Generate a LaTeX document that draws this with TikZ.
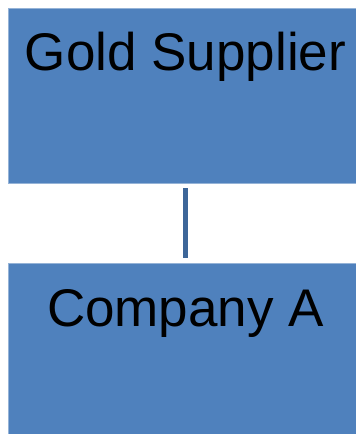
\documentclass[tikz,border=0pt]{standalone}
\usepackage{fontspec}
\setmainfont{Liberation Sans}
\usepackage{xcolor}
\usetikzlibrary{positioning}
\definecolor{boxblue}{HTML}{4F81BD}
\definecolor{linkblue}{HTML}{3D6699}

\begin{document}
\begin{tikzpicture}[x=1pt,y=1pt,
  box/.style={rectangle,fill=boxblue,draw=boxblue!60!white,line width=0.8pt,minimum width=355pt,inner sep=0pt,name=#1},
  lbl/.style={anchor=base,inner sep=0pt,font=\fontsize{53}{60}\selectfont}]
\useasboundingbox (0,0) rectangle (356,434);
\node[box=supplier,minimum height=175pt] at (185.5,338.5) {};
\node[box=companya,minimum height=176pt] at (185.5,83) {};
\node[lbl] (supplierlbl) at (185.5,363) {Gold Supplier};
\node[lbl] (companyalbl) at (185.5,107) {Company A};
\draw[linkblue,line width=5pt,shorten <=5pt,shorten >=5pt] (supplier) -- (companya);
\end{tikzpicture}
\end{document}
